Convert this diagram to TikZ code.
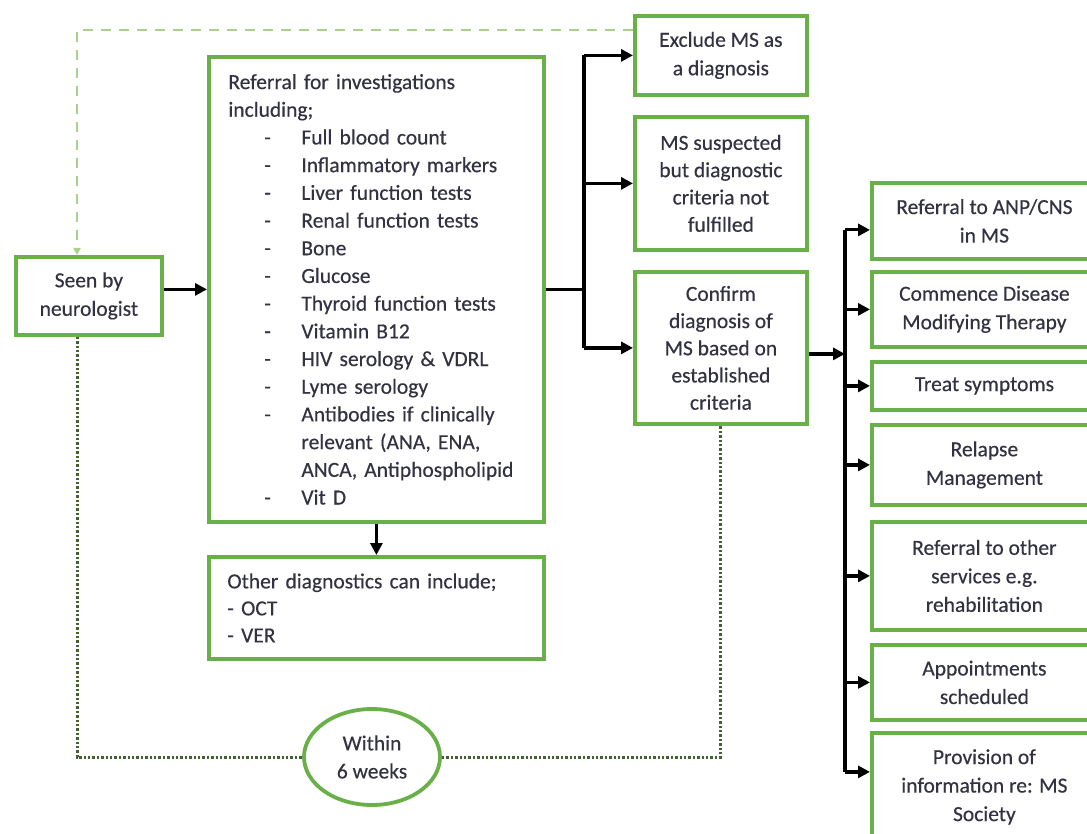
\documentclass[tikz,border=0pt]{standalone}
\usepackage{fontspec}
\setmainfont{Carlito}[FakeBold=0.35]
\usetikzlibrary{arrows.meta,shapes.geometric,calc}
\definecolor{boxgreen}{RGB}{106,176,72}
\definecolor{txt}{RGB}{50,50,66}
\definecolor{dotgreen}{RGB}{70,96,52}
\definecolor{dashgreen}{RGB}{168,210,138}
% one indented list entry: dash, then text
\newcommand\listline[1]{\hspace*{36pt}\makebox[37pt][l]{-}#1}
\newcommand\listcont[1]{\hspace*{73pt}#1}
\begin{document}
\begin{tikzpicture}[x=1pt,y=-1pt,
  box/.style={draw=boxgreen, line width=3.8pt, fill=white, text=txt,
    align=center, inner sep=4pt, anchor=north west,
    font=\fontsize{21.5}{28.5}\selectfont},
  rbox/.style={box, minimum width=225pt},
  conn/.style={line width=3.2pt, black},
  arr/.style={conn, -{Triangle[length=12pt,width=12pt]}},
  dotline/.style={draw=dotgreen, line width=3pt, dash pattern=on 2.4pt off 2pt},
  dashline/.style={draw=dashgreen, line width=2.2pt, dash pattern=on 10pt off 8pt,
    -{Triangle[length=7pt,width=7pt]}}]
\clip (0,0) rectangle (1087,834);
\fill[white] (0,0) rectangle (1087,834);

% left column
\node[box, minimum width=146pt, minimum height=78pt] (seen) at (14,255) {Seen by\\neurologist};

\node[box, minimum width=335pt, minimum height=465pt, text width=296pt,
  inner xsep=19pt, align=left, font=\fontsize{21.5}{27.7}\selectfont] (ref) at (207,55)
  {Referral for investigations\\including;\\
   \listline{Full blood  count}\\
   \listline{Inflammatory markers}\\
   \listline{Liver function tests}\\
   \listline{Renal function  tests}\\
   \listline{Bone}\\
   \listline{Glucose}\\
   \listline{Thyroid function  tests}\\
   \listline{Vitamin B12}\\
   \listline{HIV serology \& VDRL}\\
   \listline{Lyme serology}\\
   \listline{Antibodies  if clinically}\\
   \listcont{relevant (ANA, ENA,}\\
   \listcont{ANCA, Antiphospholipid}\\
   \listline{Vit D}};

\node[box, minimum width=335pt, minimum height=102pt, text width=298pt,
  inner xsep=17pt, align=left, font=\fontsize{21.5}{27}\selectfont] (oth) at (207,555)
  {Other diagnostics can include;\\- OCT\\- VER};

% diagnosis outcomes
\node[box, minimum width=172pt, minimum height=79pt] (exc) at (633,14) {Exclude MS as\\a diagnosis};
\node[box, minimum width=172pt, minimum height=133pt, font=\fontsize{21.5}{27.3}\selectfont] (sus) at (633,115)
  {MS suspected\\but diagnostic\\criteria not\\fulfilled};
\node[box, minimum width=172pt, minimum height=152pt, font=\fontsize{21.5}{27.2}\selectfont] (con) at (633,270)
  {Confirm\\diagnosis of\\MS based on\\established\\criteria};

% management steps
\node[rbox, minimum height=76pt] (r1) at (870,181) {Referral to ANP/CNS\\in MS};
\node[rbox, minimum height=75pt] (r2) at (870,270) {Commence Disease\\Modifying  Therapy};
\node[rbox, minimum height=48pt] (r3) at (870,360) {Treat symptoms};
\node[rbox, minimum height=80pt] (r4) at (870,423) {Relapse\\Management};
\node[rbox, minimum height=108pt] (r5) at (870,520) {Referral to other\\services e.g.\\rehabilitation};
\node[rbox, minimum height=75pt] (r6) at (870,643) {Appointments\\scheduled};
\node[rbox, minimum height=108pt] (r7) at (870,731) {Provision  of\\information  re: MS\\Society};

% time frame
\node[ellipse, draw=boxgreen, line width=3.8pt, fill=white, text=txt, align=center,
  minimum width=136pt, minimum height=96pt, font=\fontsize{21.5}{28}\selectfont] (wk) at (372,757)
  {Within\\6 weeks};

% dotted six-week loop
\coordinate (dl) at (77,757);
\draw[dotline] (seen.south -| dl) -- (dl) -- (wk.west);
\draw[dotline] (wk.east) -- (wk.east -| con.south) -- (con.south);

% dashed return from exclusion
\coordinate (dt) at (77,30);
\draw[dashline] (exc.west |- dt) -- (dt) -- (seen.north -| dt);

% main flow
\draw[arr] (seen.east |- ref.east) -- (ref.west);
\draw[arr] (ref.south) -- (oth.north);

\coordinate (b1) at (584,0);
\draw[conn] (ref.east) -- (ref.east -| b1);
\draw[conn] (exc.west -| b1) -- (con.west -| b1);
\draw[arr] (exc.west -| b1) -- (exc.west);
\draw[arr] (sus.west -| b1) -- (sus.west);
\draw[arr] (con.west -| b1) -- (con.west);

\coordinate (b2) at (845,0);
\draw[arr] ([yshift=-6pt]con.east) -- ([yshift=-6pt]con.east -| b2);
\draw[conn] ([yshift=-9pt]r1.west -| b2) -- ([yshift=15pt]r7.west -| b2);
\draw[arr] ([yshift=-9pt]r1.west -| b2) -- ([yshift=-9pt]r1.west);
\draw[arr] (r2.west -| b2) -- (r2.west);
\draw[arr] (r3.west -| b2) -- (r3.west);
\draw[arr] (r4.west -| b2) -- (r4.west);
\draw[arr] (r5.west -| b2) -- (r5.west);
\draw[arr] (r6.west -| b2) -- (r6.west);
\draw[arr] ([yshift=15pt]r7.west -| b2) -- ([yshift=15pt]r7.west);
\end{tikzpicture}
\end{document}
